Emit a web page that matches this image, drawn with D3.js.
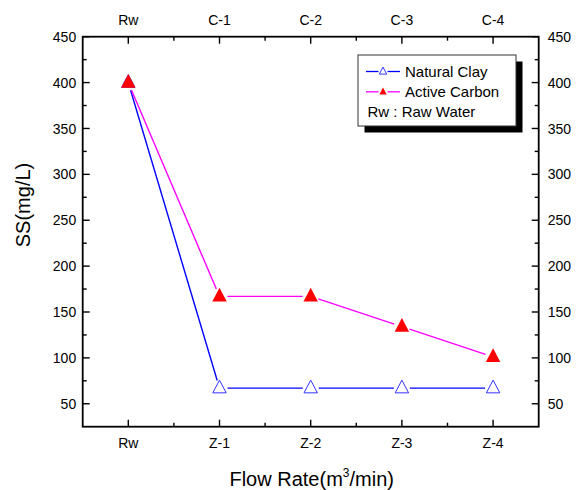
<!DOCTYPE html>
<html>
<head>
<meta charset="utf-8">
<script src="https://cdn.jsdelivr.net/npm/d3@7"></script>
<style>
  body { margin: 0; background: #fff; }
  svg { display: block; font-family: "Liberation Sans", Arial, sans-serif; }
</style>
</head>
<body>
<svg id="chart" width="577" height="490"></svg>
<script>
// ---- data ----
const bottomCategories = ["Rw", "Z-1", "Z-2", "Z-3", "Z-4"];
const topCategories = ["Rw", "C-1", "C-2", "C-3", "C-4"];
const naturalClay = [400, 67, 67, 67, 67];
const activeCarbon = [400, 167, 167, 134, 101];
const yTicks = [50, 100, 150, 200, 250, 300, 350, 400, 450];
const seriesNames = ["Natural Clay", "Active Carbon"];
const noteText = "Rw : Raw Water";

// ---- layout ----
const svg = d3.select("#chart");
const pL = 82.7, pR = 538.7, pT = 36.7, pB = 426.7;

const x = d3.scaleLinear().domain([-0.5, bottomCategories.length - 0.5]).range([pL, pR]);
const y = d3.scaleLinear().domain([25, 450]).range([pB, pT]);

const majorX = d3.range(bottomCategories.length);
const minorX = d3.range(bottomCategories.length - 1).map(i => i + 0.5);
const minorY = d3.range(75, 450, 50);

const tickG = svg.append("g").attr("stroke", "#000").attr("stroke-width", 1.4);
const majLen = 7, minLen = 4;
majorX.forEach(i => {
  tickG.append("line").attr("x1", x(i)).attr("x2", x(i)).attr("y1", pB).attr("y2", pB - majLen);
  tickG.append("line").attr("x1", x(i)).attr("x2", x(i)).attr("y1", pT).attr("y2", pT + majLen);
});
minorX.forEach(v => {
  tickG.append("line").attr("x1", x(v)).attr("x2", x(v)).attr("y1", pB).attr("y2", pB - minLen);
  tickG.append("line").attr("x1", x(v)).attr("x2", x(v)).attr("y1", pT).attr("y2", pT + minLen);
});
yTicks.forEach(v => {
  tickG.append("line").attr("x1", pL).attr("x2", pL + majLen).attr("y1", y(v)).attr("y2", y(v));
  tickG.append("line").attr("x1", pR).attr("x2", pR - majLen).attr("y1", y(v)).attr("y2", y(v));
});
minorY.forEach(v => {
  tickG.append("line").attr("x1", pL).attr("x2", pL + minLen).attr("y1", y(v)).attr("y2", y(v));
  tickG.append("line").attr("x1", pR).attr("x2", pR - minLen).attr("y1", y(v)).attr("y2", y(v));
});

// frame
svg.append("rect").attr("x", pL).attr("y", pT).attr("width", pR - pL).attr("height", pB - pT)
  .attr("fill", "none").attr("stroke", "#000").attr("stroke-width", 1.8);

// tick labels
const lab = svg.append("g").attr("fill", "#000").attr("font-size", 14);
bottomCategories.forEach((c, i) => {
  lab.append("text").attr("x", x(i)).attr("y", 448).attr("text-anchor", "middle").text(c);
});
topCategories.forEach((c, i) => {
  lab.append("text").attr("x", x(i)).attr("y", 25).attr("text-anchor", "middle").text(c);
});
yTicks.forEach(v => {
  lab.append("text").attr("x", pL - 6.5).attr("y", y(v)).attr("dy", "0.36em").attr("text-anchor", "end").text(v);
  lab.append("text").attr("x", pR + 9).attr("y", y(v)).attr("dy", "0.36em").attr("text-anchor", "start").text(v);
});

// axis titles
const xt = svg.append("text").attr("x", 311.7).attr("y", 486).attr("text-anchor", "middle").attr("font-size", 20);
xt.append("tspan").text("Flow Rate(m");
xt.append("tspan").attr("font-size", 12).attr("dy", -9).text("3");
xt.append("tspan").attr("dy", 9).text("/min)");
svg.append("text").attr("transform", "translate(30,205) rotate(-90)").attr("text-anchor", "middle")
  .attr("font-size", 20).text("SS(mg/L)");

// series with gaps around markers
const gap = 8;
function drawSeries(vals, color) {
  const pts = vals.map((v, i) => [x(i), y(v)]);
  const g = svg.append("g").attr("stroke", color).attr("stroke-width", 1.4).attr("fill", "none");
  for (let i = 0; i < pts.length - 1; i++) {
    const [x1, y1] = pts[i], [x2, y2] = pts[i + 1];
    const len = Math.hypot(x2 - x1, y2 - y1);
    if (len <= 2 * gap) continue;
    const ux = (x2 - x1) / len, uy = (y2 - y1) / len;
    g.append("line").attr("x1", x1 + ux * gap).attr("y1", y1 + uy * gap)
      .attr("x2", x2 - ux * gap).attr("y2", y2 - uy * gap);
  }
  return pts;
}
function triPath(s) {
  const hw = 6.7 * s, up = 8 * s, dn = 4.7 * s;
  return `M0,${-up}L${hw},${dn}L${-hw},${dn}Z`;
}
const ncPts = drawSeries(naturalClay, "#0000ff");
const acPts = drawSeries(activeCarbon, "#ff00ff");
svg.append("g").selectAll("path").data(ncPts).join("path")
  .attr("transform", d => `translate(${d[0]},${d[1]})`).attr("d", triPath(1))
  .attr("fill", "#fff").attr("stroke", "#3333ff").attr("stroke-width", 1);
svg.append("g").selectAll("path").data(acPts).join("path")
  .attr("transform", d => `translate(${d[0]},${d[1]})`).attr("d", triPath(1.08))
  .attr("fill", "#ff0000").attr("stroke", "none");

// legend
const lx = 358, ly = 55, lw = 158, lh = 71;
svg.append("rect").attr("x", lx + 6.5).attr("y", ly + 6.5).attr("width", lw).attr("height", lh).attr("fill", "#000");
svg.append("rect").attr("x", lx).attr("y", ly).attr("width", lw).attr("height", lh)
  .attr("fill", "#fff").attr("stroke", "#333").attr("stroke-width", 1);
const rows = [
  { name: seriesNames[0], color: "#0000ff", fill: "#fff", mstroke: "#3333ff", base: 76.5 },
  { name: seriesNames[1], color: "#ff00ff", fill: "#ff0000", mstroke: "none", base: 96.8 }
];
rows.forEach(r => {
  const cy = r.base - 5;
  svg.append("line").attr("x1", 366).attr("x2", 378.5).attr("y1", cy).attr("y2", cy).attr("stroke", r.color).attr("stroke-width", 1.3);
  svg.append("line").attr("x1", 387.5).attr("x2", 400).attr("y1", cy).attr("y2", cy).attr("stroke", r.color).attr("stroke-width", 1.3);
  svg.append("path").attr("transform", `translate(383,${cy})`).attr("d", triPath(0.55))
    .attr("fill", r.fill).attr("stroke", r.mstroke).attr("stroke-width", 1);
  svg.append("text").attr("x", 405).attr("y", r.base).attr("font-size", 15).text(r.name);
});
svg.append("text").attr("x", 367.5).attr("y", 117.3).attr("font-size", 15).text(noteText);
</script>
</body>
</html>
